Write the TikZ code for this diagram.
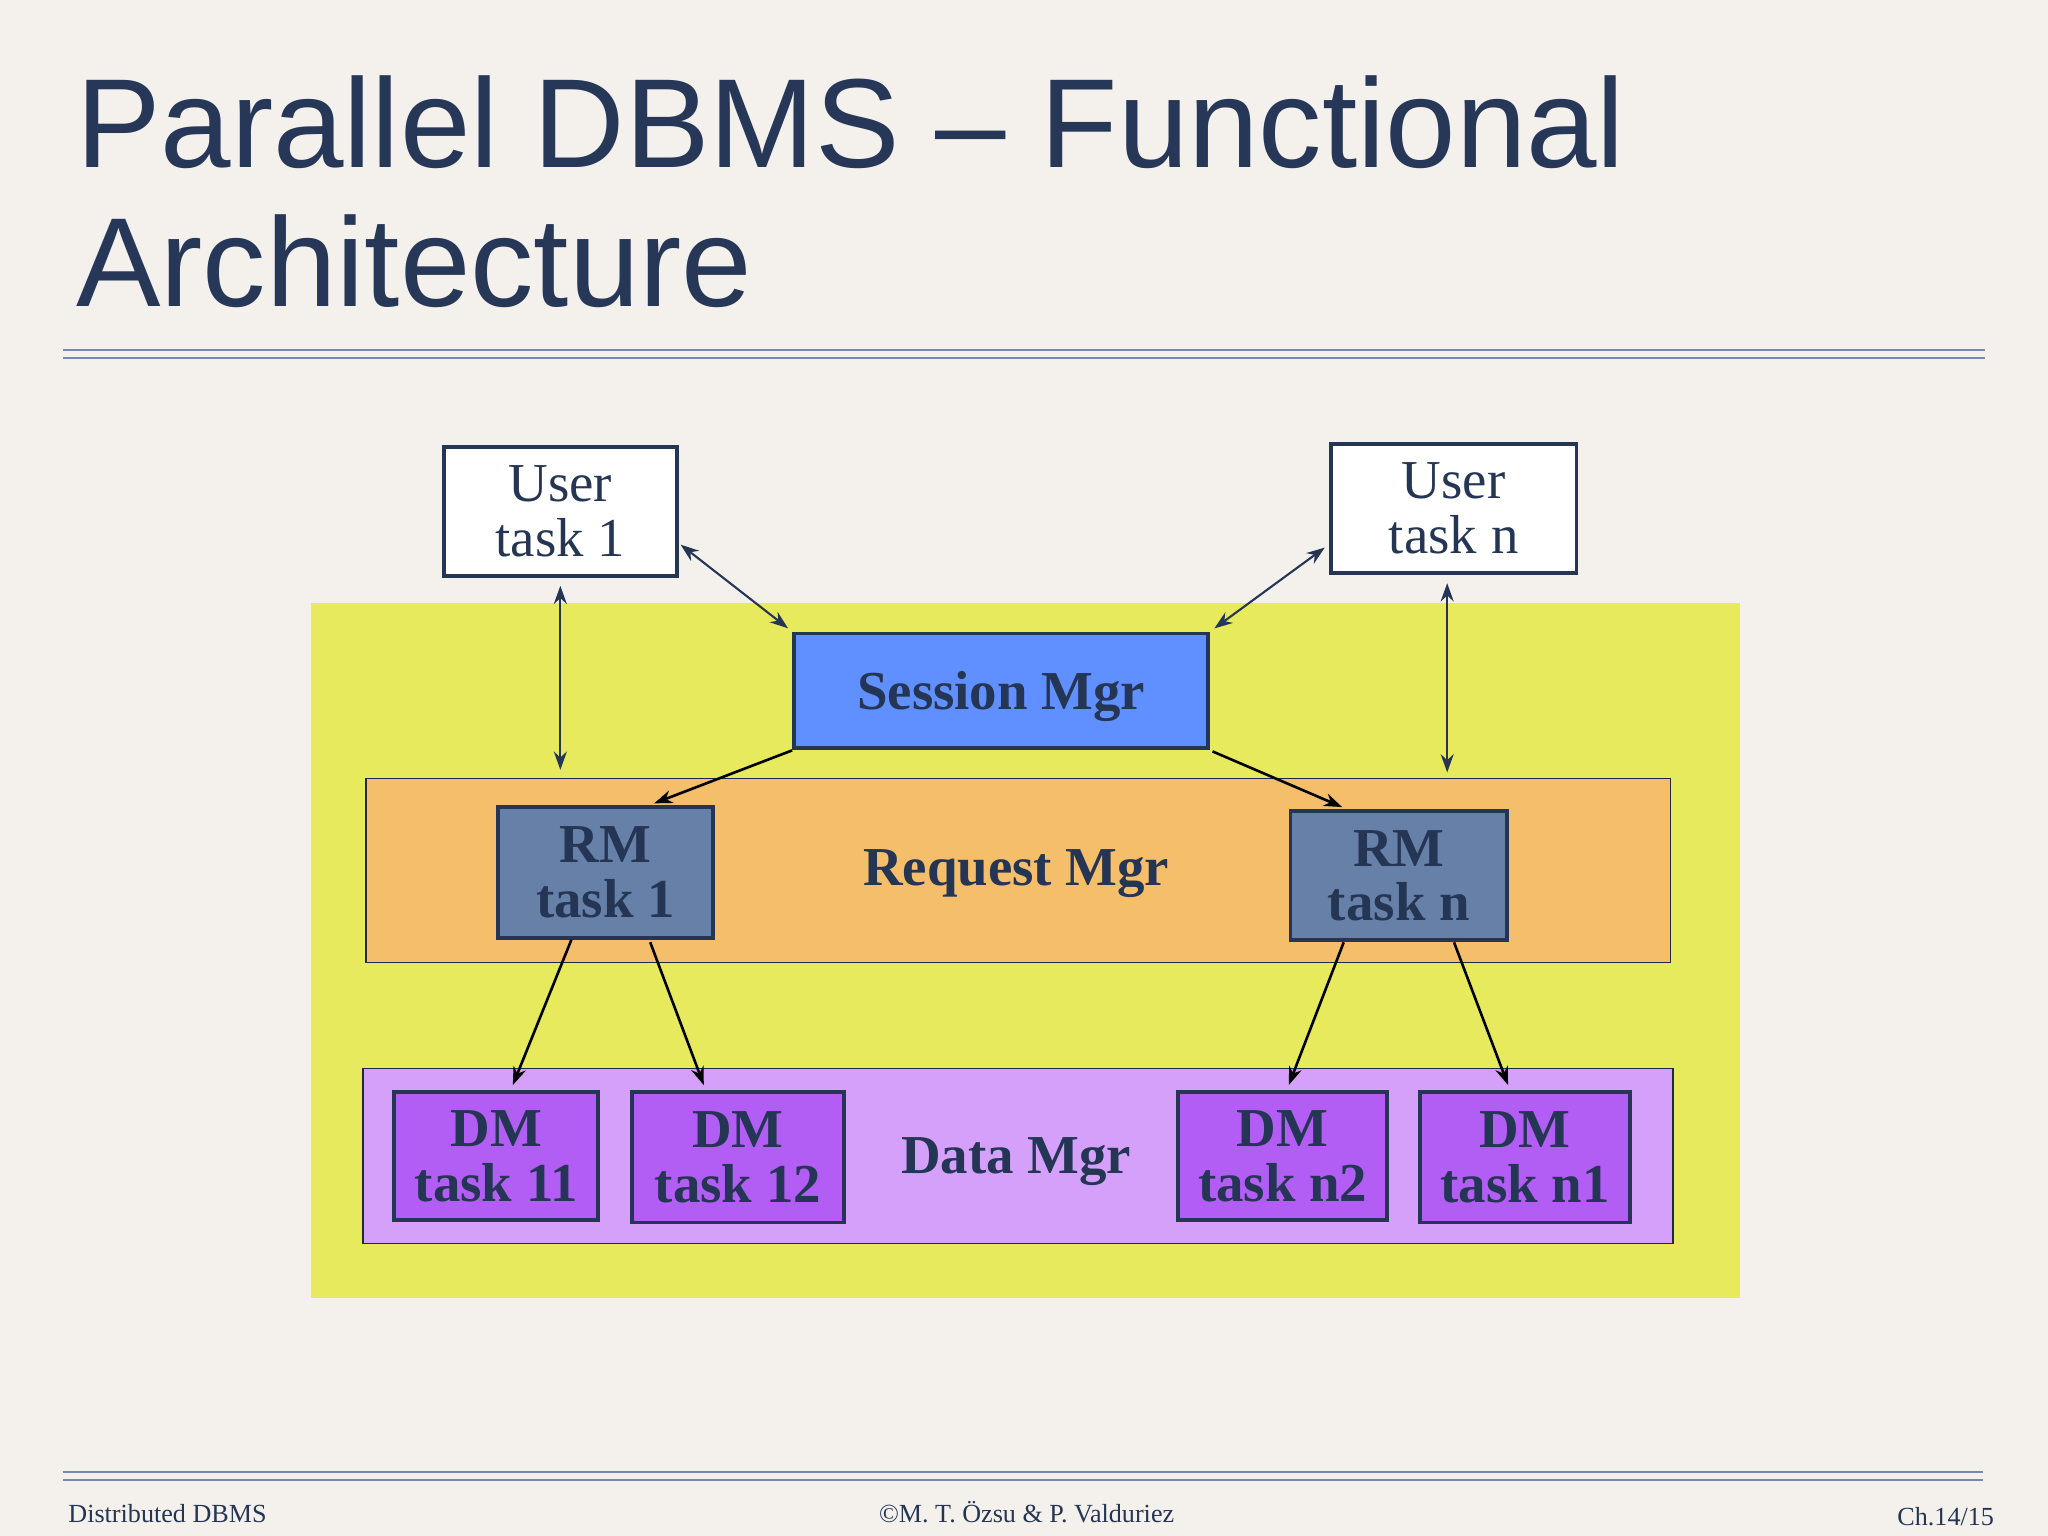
\documentclass[tikz,border=0pt]{standalone}
\usepackage{fontspec}
\setmainfont{Liberation Serif}
\newfontfamily\titlefont{Liberation Sans}
\usetikzlibrary{arrows.meta,calc}
\definecolor{bgc}{RGB}{244,241,237}
\definecolor{navy}{RGB}{37,53,84}
\definecolor{titlec}{RGB}{38,55,88}
\definecolor{rulec}{RGB}{118,138,174}
\definecolor{yel}{RGB}{232,234,94}
\definecolor{sesc}{RGB}{96,143,255}
\definecolor{reqc}{RGB}{244,190,106}
\definecolor{rmc}{RGB}{102,128,168}
\definecolor{datac}{RGB}{212,160,250}
\definecolor{dmc}{RGB}{178,94,245}
\tikzset{
  x=0.5pt, y=-0.5pt,
  lbl/.style={text=navy, font=\fontsize{21}{21}\selectfont, align=center, inner sep=0pt},
  boldlbl/.style={lbl, font=\fontsize{21}{21}\selectfont\bfseries, text depth=0pt},
  taskbox/.style={draw=navy, line width=1.5pt, inner sep=0pt, text=navy, align=center},
  userbox/.style={taskbox, fill=white, font=\fontsize{21}{21}\selectfont},
  boldbox/.style={taskbox, font=\fontsize{21}{21}\selectfont\bfseries},
  container/.style={draw=navy!80!black, line width=0.6pt, inner sep=0pt},
  uarrow/.style={draw=navy, line width=0.8pt, {Stealth[length=7pt,width=5pt]}-{Stealth[length=7pt,width=5pt]}},
  barrow/.style={draw=black, line width=1pt, -{Stealth[length=7pt,width=5pt]}},
  footer/.style={text=navy, font=\fontsize{10}{10}\selectfont, inner sep=0pt},
  titletext/.style={anchor=base west, inner sep=0pt, text=titlec, font=\titlefont\fontsize{48.5}{48.5}\selectfont},
}
\begin{document}
\begin{tikzpicture}
\useasboundingbox (0,0) rectangle (1568,1176);
\fill[bgc] (0,0) rectangle (1568,1176);
% title
\node[titletext] (t1) at (58,128) {Parallel DBMS – Functional};
\node[titletext] (t2) at (58,235) {Architecture};
% header rules
\draw[rulec, line width=1pt] (48,268) -- (1520,268);
\draw[rulec, line width=1pt] (48,274) -- (1520,274);
% footer rules
\draw[rulec, line width=1pt] (48,1127) -- (1518,1127);
\draw[rulec, line width=1pt] (48,1133) -- (1518,1133);
\node[footer, anchor=base west] (f1) at (52,1166) {Distributed DBMS};
\node[footer, anchor=base] (f2) at (786,1166) {©M. T. Özsu \& P. Valduriez};
\node[footer, anchor=base east] (f3) at (1527,1168) {Ch.14/15};
% yellow area
\fill[yel] (238,462) rectangle (1332,994);
% containers
\node[container, fill=reqc, minimum width=499.5pt, minimum height=70.5pt] (rq) at (779.5,666.5) {};
\node[boldlbl] (rqt) at (778,664) {Request Mgr};
\node[container, fill=datac, minimum width=501.5pt, minimum height=67pt] (dt) at (779.5,885) {};
\node[boldlbl] (dtt) at (778,885) {Data Mgr};
% user tasks
\node[userbox, minimum width=89pt, minimum height=49.5pt] (u1) at (429,391.5) {User\\task 1};
\node[userbox, minimum width=94pt, minimum height=49.5pt] (un) at (1113,389.5) {User\\task n};
% session mgr
\node[boldbox, fill=sesc, minimum width=158.5pt, minimum height=44pt, text depth=0pt] (ses) at (766.5,529) {Session Mgr};
% RM tasks
\node[boldbox, fill=rmc, minimum width=82.5pt, minimum height=50pt] (rm1) at (463.5,668) {RM\\task 1};
\node[boldbox, fill=rmc, minimum width=83pt, minimum height=49.5pt] (rmn) at (1071,670.5) {RM\\task n};
% DM tasks
\node[boldbox, fill=dmc, minimum width=78pt, minimum height=49pt] (d11) at (380,885) {DM\\task 11};
\node[boldbox, fill=dmc, minimum width=81pt, minimum height=50pt] (d12) at (565,886) {DM\\task 12};
\node[boldbox, fill=dmc, minimum width=80pt, minimum height=49pt] (dn2) at (982,885) {DM\\task n2};
\node[boldbox, fill=dmc, minimum width=80.5pt, minimum height=50pt] (dn1) at (1167.5,886) {DM\\task n1};
% user arrows
\draw[uarrow, shorten <=3pt, shorten >=3pt] (u1.south) -- (u1.south |- rq.north);
\draw[uarrow, shorten <=3pt, shorten >=2pt] ([xshift=-2.5pt]un.south) -- ([xshift=-2.5pt]un.south |- rq.north);
\draw[uarrow, shorten <=1pt, shorten >=2pt] (u1.-15) -- (ses.north west);
\draw[uarrow, shorten <=2pt, shorten >=2pt] (un.196) -- (ses.north east);
% session to RM
\draw[barrow, shorten >=2pt] (ses.south west) -- ($(rm1.north west)!0.7!(rm1.north east)$);
\draw[barrow, shorten <=1pt, shorten >=2pt] (ses.south east) -- ($(rmn.north west)!0.265!(rmn.north east)$);
% RM to DM
\draw[barrow, shorten >=2pt] ($(rm1.south west)!0.345!(rm1.south east)$) -- ($(d11.north west)!0.57!(d11.north east)$);
\draw[barrow, shorten <=1pt, shorten >=2pt] ($(rm1.south west)!0.70!(rm1.south east)$) -- ($(d12.north west)!0.35!(d12.north east)$);
\draw[barrow, shorten >=2pt] ($(rmn.south west)!0.25!(rmn.south east)$) -- ($(dn2.north west)!0.52!(dn2.north east)$);
\draw[barrow, shorten >=2pt] ($(rmn.south west)!0.75!(rmn.south east)$) -- ($(dn1.north west)!0.43!(dn1.north east)$);
\end{tikzpicture}
\end{document}
